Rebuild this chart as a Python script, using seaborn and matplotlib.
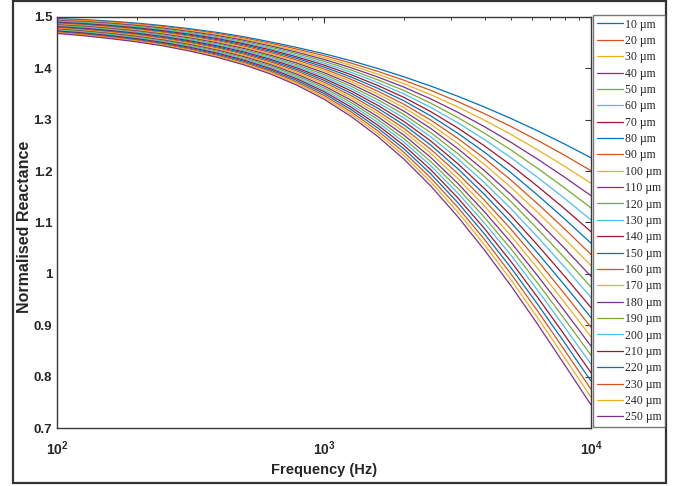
import matplotlib
matplotlib.use("Agg")
import matplotlib.pyplot as plt
from matplotlib.patches import Rectangle
from matplotlib.ticker import FixedLocator, FixedFormatter, LogLocator, NullFormatter
import numpy as np
import pandas as pd
import seaborn as sns

# Plate thickness of each curve (µm)
thickness_um = [10, 20, 30, 40, 50, 60, 70, 80, 90, 100, 110, 120, 130,
                140, 150, 160, 170, 180, 190, 200, 210, 220, 230, 240, 250]

# Sample frequencies (Hz), ten per decade
freq_hz = [100, 126, 158, 200, 251, 316, 398, 501, 631, 794,
           1000, 1259, 1585, 1995, 2512, 3162, 3981, 5012, 6310, 7943, 10000]

# Normalised reactance at each frequency, one value per thickness (10 ... 250 µm)
x_100 = [1.4970, 1.4958, 1.4946, 1.4934, 1.4922, 1.4910, 1.4898, 1.4885, 1.4873,
         1.4861, 1.4849, 1.4837, 1.4825, 1.4813, 1.4801, 1.4789, 1.4777, 1.4765,
         1.4752, 1.4740, 1.4728, 1.4716, 1.4704, 1.4692, 1.4680]
x_126 = [1.4950, 1.4937, 1.4924, 1.4911, 1.4898, 1.4884, 1.4871, 1.4858, 1.4845,
         1.4832, 1.4819, 1.4806, 1.4793, 1.4779, 1.4766, 1.4753, 1.4740, 1.4727,
         1.4714, 1.4701, 1.4688, 1.4674, 1.4661, 1.4648, 1.4635]
x_158 = [1.4920, 1.4906, 1.4892, 1.4878, 1.4863, 1.4849, 1.4835, 1.4821, 1.4807,
         1.4793, 1.4778, 1.4764, 1.4750, 1.4736, 1.4722, 1.4708, 1.4693, 1.4679,
         1.4665, 1.4651, 1.4637, 1.4623, 1.4608, 1.4594, 1.4580]
x_200 = [1.4880, 1.4865, 1.4850, 1.4834, 1.4819, 1.4804, 1.4789, 1.4774, 1.4758,
         1.4743, 1.4728, 1.4713, 1.4698, 1.4682, 1.4667, 1.4652, 1.4637, 1.4621,
         1.4606, 1.4591, 1.4576, 1.4561, 1.4545, 1.4530, 1.4515]
x_251 = [1.4830, 1.4814, 1.4797, 1.4781, 1.4764, 1.4748, 1.4731, 1.4715, 1.4698,
         1.4682, 1.4665, 1.4649, 1.4633, 1.4616, 1.4600, 1.4583, 1.4567, 1.4550,
         1.4534, 1.4517, 1.4501, 1.4484, 1.4468, 1.4451, 1.4435]
x_316 = [1.4770, 1.4752, 1.4734, 1.4716, 1.4698, 1.4679, 1.4661, 1.4643, 1.4625,
         1.4607, 1.4589, 1.4571, 1.4553, 1.4534, 1.4516, 1.4498, 1.4480, 1.4462,
         1.4444, 1.4426, 1.4408, 1.4389, 1.4371, 1.4353, 1.4335]
x_398 = [1.4700, 1.4680, 1.4660, 1.4639, 1.4619, 1.4599, 1.4579, 1.4559, 1.4538,
         1.4518, 1.4498, 1.4478, 1.4458, 1.4437, 1.4417, 1.4397, 1.4377, 1.4356,
         1.4336, 1.4316, 1.4296, 1.4276, 1.4255, 1.4235, 1.4215]
x_501 = [1.4615, 1.4592, 1.4570, 1.4547, 1.4524, 1.4501, 1.4479, 1.4456, 1.4433,
         1.4411, 1.4388, 1.4365, 1.4343, 1.4320, 1.4297, 1.4274, 1.4252, 1.4229,
         1.4206, 1.4184, 1.4161, 1.4138, 1.4115, 1.4093, 1.4070]
x_631 = [1.4515, 1.4489, 1.4463, 1.4437, 1.4411, 1.4385, 1.4359, 1.4333, 1.4307,
         1.4281, 1.4255, 1.4229, 1.4203, 1.4176, 1.4150, 1.4124, 1.4098, 1.4072,
         1.4046, 1.4020, 1.3994, 1.3968, 1.3942, 1.3916, 1.3890]
x_794 = [1.4405, 1.4374, 1.4344, 1.4313, 1.4283, 1.4252, 1.4221, 1.4191, 1.4160,
         1.4129, 1.4099, 1.4068, 1.4038, 1.4007, 1.3976, 1.3946, 1.3915, 1.3884,
         1.3854, 1.3823, 1.3793, 1.3762, 1.3731, 1.3701, 1.3670]
x_1000 = [1.4285, 1.4248, 1.4211, 1.4174, 1.4138, 1.4101, 1.4064, 1.4027, 1.3990,
          1.3953, 1.3916, 1.3879, 1.3843, 1.3806, 1.3769, 1.3732, 1.3695, 1.3658,
          1.3621, 1.3584, 1.3548, 1.3511, 1.3474, 1.3437, 1.3400]
x_1259 = [1.4150, 1.4105, 1.4060, 1.4015, 1.3970, 1.3925, 1.3880, 1.3835, 1.3790,
          1.3745, 1.3700, 1.3655, 1.3610, 1.3565, 1.3520, 1.3475, 1.3430, 1.3385,
          1.3340, 1.3295, 1.3250, 1.3205, 1.3160, 1.3115, 1.3070]
x_1585 = [1.4000, 1.3945, 1.3890, 1.3835, 1.3780, 1.3725, 1.3670, 1.3615, 1.3560,
          1.3505, 1.3450, 1.3395, 1.3340, 1.3285, 1.3230, 1.3175, 1.3120, 1.3065,
          1.3010, 1.2955, 1.2900, 1.2845, 1.2790, 1.2735, 1.2680]
x_1995 = [1.3835, 1.3768, 1.3701, 1.3634, 1.3568, 1.3501, 1.3434, 1.3367, 1.3300,
          1.3233, 1.3166, 1.3099, 1.3033, 1.2966, 1.2899, 1.2832, 1.2765, 1.2698,
          1.2631, 1.2564, 1.2498, 1.2431, 1.2364, 1.2297, 1.2230]
x_2512 = [1.3655, 1.3572, 1.3488, 1.3405, 1.3322, 1.3240, 1.3157, 1.3075, 1.2993,
          1.2911, 1.2830, 1.2748, 1.2667, 1.2586, 1.2506, 1.2425, 1.2345, 1.2265,
          1.2185, 1.2105, 1.2026, 1.1946, 1.1867, 1.1789, 1.1710]
x_3162 = [1.3460, 1.3356, 1.3252, 1.3149, 1.3046, 1.2944, 1.2843, 1.2742, 1.2642,
          1.2542, 1.2443, 1.2345, 1.2247, 1.2150, 1.2053, 1.1957, 1.1862, 1.1767,
          1.1673, 1.1579, 1.1486, 1.1394, 1.1302, 1.1211, 1.1120]
x_3981 = [1.3250, 1.3121, 1.2994, 1.2868, 1.2742, 1.2618, 1.2495, 1.2373, 1.2252,
          1.2133, 1.2014, 1.1897, 1.1780, 1.1665, 1.1551, 1.1438, 1.1326, 1.1215,
          1.1105, 1.0997, 1.0889, 1.0783, 1.0677, 1.0573, 1.0470]
x_5012 = [1.3025, 1.2869, 1.2715, 1.2562, 1.2412, 1.2263, 1.2116, 1.1970, 1.1827,
          1.1685, 1.1545, 1.1407, 1.1270, 1.1135, 1.1002, 1.0871, 1.0742, 1.0614,
          1.0488, 1.0364, 1.0242, 1.0121, 1.0002, 0.9885, 0.9770]
x_6310 = [1.2785, 1.2598, 1.2414, 1.2233, 1.2054, 1.1878, 1.1704, 1.1533, 1.1364,
          1.1198, 1.1035, 1.0874, 1.0716, 1.0560, 1.0407, 1.0257, 1.0109, 0.9964,
          0.9821, 0.9681, 0.9544, 0.9409, 0.9277, 0.9147, 0.9020]
x_7943 = [1.2530, 1.2312, 1.2097, 1.1886, 1.1678, 1.1474, 1.1273, 1.1075, 1.0881,
          1.0690, 1.0503, 1.0319, 1.0139, 0.9962, 0.9788, 0.9618, 0.9451, 0.9288,
          0.9128, 0.8971, 0.8818, 0.8669, 0.8522, 0.8379, 0.8240]
x_10000 = [1.2260, 1.2009, 1.1763, 1.1522, 1.1284, 1.1051, 1.0822, 1.0598, 1.0378,
           1.0162, 0.9951, 0.9744, 0.9541, 0.9343, 0.9149, 0.8960, 0.8774, 0.8594,
           0.8417, 0.8245, 0.8077, 0.7914, 0.7755, 0.7600, 0.7450]

y_ticks = [0.7, 0.8, 0.9, 1.0, 1.1, 1.2, 1.3, 1.4, 1.5]
y_tick_labels = ["0.7", "0.8", "0.9", "1", "1.1", "1.2", "1.3", "1.4", "1.5"]
x_ticks = [1e2, 1e3, 1e4]
x_tick_labels = [r"$\mathbf{10^{2}}$", r"$\mathbf{10^{3}}$", r"$\mathbf{10^{4}}$"]

columns = [x_100, x_126, x_158, x_200, x_251, x_316, x_398, x_501, x_631, x_794,
           x_1000, x_1259, x_1585, x_1995, x_2512, x_3162, x_3981, x_5012,
           x_6310, x_7943, x_10000]

labels = [f"{t} \u00b5m" for t in thickness_um]
records = []
for f, col in zip(freq_hz, columns):
    for lab, v in zip(labels, col):
        records.append({"freq": f, "thickness": lab, "value": v})
df = pd.DataFrame(records)

sns.set_style("white")
plt.rcParams["font.family"] = ["Liberation Sans", "DejaVu Sans"]
plt.rcParams["mathtext.fontset"] = "custom"
plt.rcParams["mathtext.bf"] = "Liberation Sans:bold"
plt.rcParams["mathtext.rm"] = "Liberation Sans"

# MATLAB default line colour order, cycled over the 25 curves
matlab_colors = ["#0072BD", "#D95319", "#EDB120", "#7E2F8E",
                 "#77AC30", "#4DBEEE", "#A2142F"]
palette = [matlab_colors[i % len(matlab_colors)] for i in range(len(thickness_um))]

fig = plt.figure(figsize=(6.75, 4.86), dpi=100)
ax = fig.add_axes([57 / 675, 1 - 428 / 486, (591 - 57) / 675, (428 - 17) / 486])

sns.lineplot(data=df, x="freq", y="value", hue="thickness", hue_order=labels,
             palette=palette, linewidth=0.9, ax=ax, legend=False)

ax.set_xscale("log")
ax.set_xlim(1e2, 1e4)
ax.set_ylim(0.7, 1.5)
axis_color = "#3a3a3a"
for s in ax.spines.values():
    s.set_visible(True)
    s.set_color(axis_color)
    s.set_linewidth(1.0)

ax.xaxis.set_major_locator(FixedLocator(x_ticks))
ax.xaxis.set_major_formatter(FixedFormatter(x_tick_labels))
ax.xaxis.set_minor_locator(LogLocator(base=10, subs=np.arange(2, 10)))
ax.xaxis.set_minor_formatter(NullFormatter())
ax.yaxis.set_major_locator(FixedLocator(y_ticks))
ax.yaxis.set_major_formatter(FixedFormatter(y_tick_labels))
ax.tick_params(which="both", direction="in", top=True, right=True,
               color=axis_color, labelcolor="#262626")
ax.tick_params(which="major", length=4, width=0.8, labelsize=9.5)
ax.tick_params(which="minor", length=2.5, width=0.7)
ax.tick_params(axis="x", labelsize=10, pad=8)
for lab in ax.get_yticklabels():
    lab.set_fontweight("bold")

ax.set_xlabel("Frequency (Hz)", fontsize=10.5, fontweight="bold", color="#262626")
ax.set_ylabel("Normalised Reactance", fontsize=11.5, fontweight="bold", color="#262626")
ax.xaxis.set_label_coords(0.5, -0.085)
ax.yaxis.set_label_coords(-0.046, 0.49)

handles = ax.get_lines()[:len(labels)]
leg = fig.legend(handles, labels, loc="upper left",
                 bbox_to_anchor=(593 / 675, 1 - 15 / 486),
                 prop={"family": "Liberation Serif", "size": 8.5},
                 labelspacing=0.37, handlelength=2.2, handletextpad=0.2,
                 borderpad=0.3, borderaxespad=0, frameon=True, fancybox=False)
leg.get_frame().set_edgecolor("#555555")
leg.get_frame().set_linewidth(1.0)

fig.patches.append(Rectangle((13 / 675, 1 - 483 / 486), (666 - 13) / 675, (483 - 1) / 486,
                             transform=fig.transFigure, fill=False,
                             edgecolor="#333333", linewidth=1.6))

fig.savefig("out.png", dpi=100)
